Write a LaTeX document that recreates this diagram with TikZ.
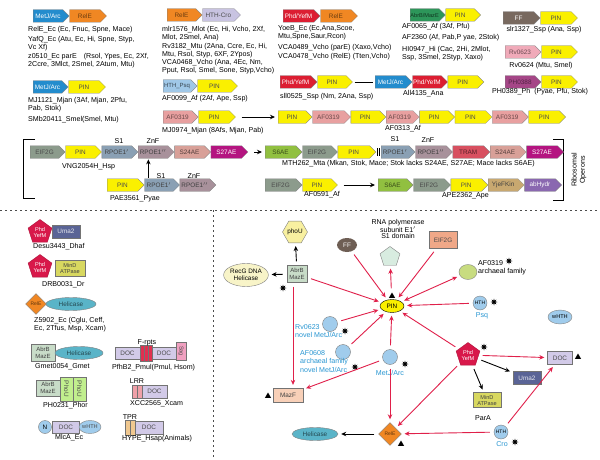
\documentclass[tikz,border=0pt]{standalone}
\usepackage{fontspec}
\setmainfont{Liberation Sans}
\usetikzlibrary{shapes.symbols,shapes.geometric,arrows.meta,positioning}
\newcommand\lblfont{\fontsize{7.1}{8.3}\selectfont}
\newcommand\genefont{\fontsize{6.4}{6.8}\selectfont}
\newcommand\smfont{\fontsize{5.6}{6}\selectfont}
\definecolor{metj}{RGB}{35,140,205}
\definecolor{rele}{RGB}{240,135,35}
\definecolor{pin}{RGB}{250,240,0}
\definecolor{htcro}{RGB}{200,195,225}
\definecolor{phd}{RGB}{220,30,50}
\definecolor{abrbg}{RGB}{45,150,90}
\definecolor{ffc}{RGB}{120,105,95}
\definecolor{rvp}{RGB}{240,170,185}
\definecolor{phm}{RGB}{165,70,135}
\definecolor{hthp}{RGB}{160,200,232}
\definecolor{afp}{RGB}{232,160,160}
\definecolor{eif}{RGB}{140,155,140}
\definecolor{rpo1}{RGB}{138,160,180}
\definecolor{rpo2}{RGB}{168,145,155}
\definecolor{s24}{RGB}{216,160,152}
\definecolor{s27}{RGB}{180,20,128}
\definecolor{s6}{RGB}{145,192,64}
\definecolor{redu}{RGB}{216,80,96}
\definecolor{yjef}{RGB}{200,168,112}
\definecolor{abh}{RGB}{138,104,176}
\definecolor{crim}{RGB}{216,24,74}
\definecolor{uma}{RGB}{90,100,150}
\definecolor{mind}{RGB}{216,216,96}
\definecolor{doc}{RGB}{210,202,232}
\definecolor{heli}{RGB}{90,180,200}
\definecolor{lblue}{RGB}{160,204,236}
\definecolor{phouc}{RGB}{248,240,160}
\definecolor{recgc}{RGB}{248,244,200}
\definecolor{abrbl}{RGB}{200,220,200}
\definecolor{mazfc}{RGB}{248,208,184}
\definecolor{ffn}{RGB}{110,94,84}
\definecolor{pentg}{RGB}{216,236,224}
\definecolor{eifb}{RGB}{240,168,136}
\definecolor{afgc}{RGB}{200,220,128}
\definecolor{redarr}{RGB}{224,32,74}
\definecolor{blueT}{RGB}{40,150,210}
\definecolor{frpt}{RGB}{224,48,80}
\definecolor{sagc}{RGB}{240,160,192}
\definecolor{lrrc}{RGB}{240,160,168}
\definecolor{tprc}{RGB}{240,200,144}
\tikzset{
 gene/.style={signal, signal to=east, draw=black!50, line width=0.3pt, minimum height=12.5pt, minimum width=36pt, inner sep=0.3pt, font=\genefont, anchor=west},
 metjG/.style={gene, fill=metj, text=white},
 releG/.style={gene, fill=rele, text=rele!45!black},
 pinG/.style={gene, fill=pin, text=black!70},
 htcroG/.style={gene, fill=htcro, text=black!70},
 phdG/.style={gene, fill=phd, text=white},
 abrbG/.style={gene, fill=abrbg, text=abrbg!35!black, font=\smfont},
 ffG/.style={gene, fill=ffc, text=white},
 rvG/.style={gene, fill=rvp, text=rvp!45!black},
 phmG/.style={gene, fill=phm, text=phm!50!black},
 hthG/.style={gene, fill=hthp, text=hthp!35!black, font=\fontsize{6}{6.4}\selectfont},
 afG/.style={gene, fill=afp, text=afp!45!black},
 eifG/.style={gene, fill=eif, text=black!70},
 rpoaG/.style={gene, fill=rpo1, text=black!75},
 rpobG/.style={gene, fill=rpo2, text=black!75},
 s24G/.style={gene, fill=s24, text=s24!40!black},
 s27G/.style={gene, fill=s27, text=white},
 s6G/.style={gene, fill=s6, text=s6!40!black},
 reduG/.style={gene, fill=redu, text=redu!40!black},
 yjefG/.style={gene, fill=yjef, text=black!75},
 abhG/.style={gene, fill=abh, text=white},
 lbl/.style={font=\lblfont, anchor=north west, inner sep=0pt, align=left},
 clbl/.style={font=\lblfont, inner sep=0pt, align=center},
 box/.style={rectangle, draw=black!55, line width=0.3pt, inner sep=0.5pt, font=\genefont, align=center},
 ra/.style={draw=redarr, line width=0.9pt, -{Stealth[length=5pt,width=4.5pt]}, shorten <=4pt, shorten >=3pt},
 ba/.style={draw=black, line width=0.9pt, -{Stealth[length=5pt,width=4.5pt]}, shorten <=4pt, shorten >=3pt},
 opa/.style={draw=black, line width=0.9pt, -{Stealth[length=5pt,width=4.5pt]}, shorten <=6pt, shorten >=3pt},
 starn/.style={star, star points=8, star point ratio=2.4, fill=black, minimum size=7pt, inner sep=0pt},
 tri/.style={regular polygon, regular polygon sides=3, fill=black, minimum size=7pt, inner sep=0pt},
 pent/.style={regular polygon, regular polygon sides=5, fill=crim, draw=crim!80!black, text=white, minimum size=25pt, inner sep=0pt, font=\smfont, align=center},
 bluet/.style={font=\lblfont, text=blueT, inner sep=0pt, align=left},
 sep/.style={draw=black!70, line width=0.8pt, dash pattern=on 2pt off 3pt}
}
\begin{document}
\begin{tikzpicture}[x=1pt,y=-1pt]
\useasboundingbox (0,0) rectangle (600,460);
\fill[white] (0,0) rectangle (600,460);
% ---------- row 1 ----------
\node[metjG] (a1) at (33,16) {MetJ/Arc};
\node[releG, minimum width=37pt, right=0pt of a1] (a2) {RelE};
\node[lbl] (la1) at (28,26) {RelE\_Ec (Ec, Fnuc, Spne, Mace)};
\node[lbl] (la2) at (28,36) {YafQ\_Ec (Atu, Ec, Hi, Spne, Styp,\\Vc Xf)};
\node[lbl] (la3) at (28,53) {z0510\_Ec parE\quad(Rsol, Ypes, Ec, 2Xf,\\2Ccre, 3Mlct, 2Smel, 2Atum, Mtu)};

\node[releG, minimum width=35pt] (b1) at (167,15) {RelE};
\node[htcroG, minimum width=38pt, right=0pt of b1] (b2) {HTH-Cro};
\node[lbl] (lb1) at (162,26) {mlr1576\_Mlot (Ec, Hi, Vcho, 2Xf,\\Mlot, 2Smel, Ana)};
\node[lbl] (lb2) at (162,43) {Rv3182\_Mtu (2Ana, Ccre, Ec, Hi,\\Mtu, Rsol, Styp, 6XF, 2Ypos)};
\node[lbl] (lb3) at (162,59) {VCA0468\_Vcho (Ana, 4Ec, Nm,\\Pput, Rsol, Smel, Sone, Styp,Vcho)};

\node[phdG, minimum width=37pt] (c1) at (283,16) {Phd/YefM};
\node[releG, minimum width=37pt, right=0pt of c1] (c2) {RelE};
\node[lbl] (lc1) at (278,25) {YoeB\_Ec (Ec,Ana,Scoe,\\Mtu,Spne,Saur,Rcon)};
\node[lbl] (lc2) at (278,44) {VCA0489\_Vcho (parE) (Xaxo,Vcho)};
\node[lbl] (lc3) at (278,53) {VCA0478\_Vcho (RelE) (Tten,Vcho)};

\node[abrbG, minimum width=35pt] (d1) at (410,15) {AbrB/MazE};
\node[pinG, minimum width=35pt, right=0pt of d1] (d2) {PIN};
\node[lbl] (ld1) at (402,23) {AF0065\_Af (3Af, Pfu)};
\node[lbl] (ld2) at (402,34) {AF2360 (Af, Pab,P yae, 2Stok)};
\node[lbl] (ld3) at (402,46) {HI0947\_Hi (Cac, 2Hi, 2Mlot,\\Ssp, 3Smel, 2Styp, Xaxo)};

\node[ffG, minimum width=37pt] (e1) at (503,18) {FF};
\node[pinG, minimum width=37pt, right=0pt of e1] (e2) {PIN};
\node[clbl] (le1) at (544,30) {slr1327\_Ssp (Ana, Ssp)};

\node[rvG] (f1) at (505,52) {Rv0623};
\node[pinG, right=0pt of f1] (f2) {PIN};
\node[clbl] (lf1) at (541,66) {Rv0624 (Mtu, Smel)};

\node[phmG] (h1) at (505,82) {PH0388};
\node[pinG, right=0pt of h1] (h2) {PIN};
\node[clbl] (lh1) at (540,92) {PH0389\_Ph\ \ (Pyae, Pfu, Stok)};

% ---------- row 2 ----------
\node[metjG, minimum width=35pt] (i1) at (33,87) {MetJ/Arc};
\node[pinG, minimum width=37pt, right=0pt of i1] (i2) {PIN};
\node[lbl] (li1) at (28,97) {MJ1121\_Mjan (3Af, Mjan, 2Pfu,\\Pab, Stok)};
\node[lbl] (li2) at (28,116) {SMb20411\_Smel(Smel, Mtu)};

\node[hthG, minimum width=34pt] (j1) at (163,86) {HTH\_Psq};
\node[pinG, minimum width=40pt, right=0pt of j1] (j2) {PIN};
\node[lbl] (lj1) at (162,95) {AF0099\_Af (2Af, Ape, Ssp)};

\node[phdG, minimum width=37pt] (k1) at (280,82) {Phd/YefM};
\node[pinG, minimum width=35pt, right=0pt of k1] (k2) {PIN};
\node[metjG, minimum width=37pt] (k3) at (375,82) {MetJ/Arc};
\node[phdG, minimum width=35pt, right=0pt of k3] (k4) {Phd/YefM};
\node[pinG, minimum width=36pt, right=0pt of k4] (k5) {PIN};
\draw[line width=0.9pt, shorten <=2pt, shorten >=2pt] (k2.east) -- (k3.west);
\node[lbl] (lk1) at (280,93) {sll0525\_Ssp (Nm, 2Ana, Ssp)};
\node[lbl] (lk2) at (403,90) {All4135\_Ana};

% ---------- row 3 ----------
\node[afG, minimum width=35pt] (m1) at (163,117) {AF0319};
\node[pinG, minimum width=37pt, right=0pt of m1] (m2) {PIN};
\node[lbl] (lm1) at (162,127) {MJ0974\_Mjan (8Afs, Mjan, Pab)};
\node[pinG, minimum width=34pt] (n1) at (278,117) {PIN};
\draw[opa] (m2.east) -- (n1.west);
\node[afG, minimum width=38pt, right=0pt of n1] (n2) {AF0319};
\node[pinG, minimum width=35pt, right=0pt of n2] (n3) {PIN};
\node[afG, minimum width=33pt, right=0pt of n3] (n4) {AF0319};
\node[pinG, minimum width=35pt, right=0pt of n4] (n5) {PIN};
\node[pinG, minimum width=37pt, right=0pt of n5] (n6) {PIN};
\node[afG, minimum width=36pt, right=0pt of n6] (n7) {AF0319};
\node[pinG, minimum width=37pt, right=0pt of n7] (n8) {PIN};
\node[lbl] (ln1) at (385,125) {AF0313\_Af};

% ---------- ribosomal operons ----------
\draw[line width=0.7pt] (35,139) -- (23,139) -- (23,198) -- (35,198);
\draw[line width=0.7pt] (553,139) -- (563,139) -- (563,200) -- (553,200);
\node[clbl, rotate=90] (ribo) at (579,170) {Ribosomal\\Operons};

\node[eifG, minimum width=35pt] (p1) at (30,152) {EIF2G};
\node[pinG, right=0pt of p1] (p2) {PIN};
\node[rpoaG, right=0pt of p2] (p3) {RPOE1$'$};
\node[rpobG, right=0pt of p3] (p4) {RPOE1$''$};
\node[s24G, right=0pt of p4] (p5) {S24AE};
\node[s27G, minimum width=37pt, right=0pt of p5] (p6) {S27AE};
\node[clbl] (lp3) at (119,141) {S1};
\node[clbl] (lp4) at (153,141) {ZnF};
\node[lbl] (lp1) at (62,163) {VNG2054H\_Hsp};

\node[s6G, minimum width=37pt] (q1) at (265,152) {S6AE};
\draw[opa] (p6.east) -- (q1.west);
\node[eifG, minimum width=35pt, right=0pt of q1] (q2) {EIF2G};
\node[pinG, minimum width=38pt, right=0pt of q2] (q3) {PIN};
\node[rpoaG, minimum width=34pt] (q4) at (381,152) {RPOE1$'$};
\draw[line width=0.6pt] (377,148) -- (377,156) (379.5,148) -- (379.5,156);
\node[rpobG, minimum width=37pt, right=0pt of q4] (q5) {RPOE1$''$};
\node[reduG, minimum width=37pt, right=0pt of q5] (q6) {TRAM};
\node[s24G, right=0pt of q6] (q7) {S24AE};
\node[s27G, minimum width=37pt, right=0pt of q7] (q8) {S27AE};
\node[clbl] (lq4) at (395,139) {S1};
\node[clbl] (lq5) at (428,140) {ZnF};
\node[lbl] (lq1) at (282,160) {MTH262\_Mta (Mkan, Stok, Mace; Stok lacks S24AE, S27AE; Mace lacks S6AE)};

\node[pinG, minimum width=37pt] (r1) at (107,185) {PIN};
\node[rpoaG, minimum width=35pt, right=0pt of r1] (r2) {RPOE1$'$};
\node[rpobG, right=0pt of r2] (r3) {RPOE1$''$};
\node[clbl] (lr2) at (161,176) {S1};
\node[clbl] (lr3) at (194,176) {ZnF};
\node[lbl] (lr1) at (110,195) {PAE3561\_Pyae};
\coordinate (up0) at ([xshift=4pt]r2.north west);
\draw[ba, shorten <=1pt, shorten >=1pt] (up0) -- (up0 |- p4.south);

\node[eifG, minimum width=37pt] (s1) at (265,185) {EIF2G};
\node[pinG, minimum width=35pt, right=0pt of s1] (s2) {PIN};
\node[lbl] (ls1) at (304,191) {AF0591\_Af};
\node[s6G, minimum width=35pt] (t1) at (378,185) {S6AE};
\draw[opa] (s2.east) -- (t1.west);
\node[eifG, minimum width=37pt, right=0pt of t1] (t2) {EIF2G};
\node[pinG, minimum width=37pt, right=0pt of t2] (t3) {PIN};
\node[yjefG, right=0pt of t3] (t4) {YjeFKin};
\node[abhG, minimum width=37pt, right=0pt of t4] (t5) {abHydr};
\node[lbl] (lt1) at (442,192) {APE2362\_Ape};

% ---------- separators ----------
\draw[sep] (0,210) -- (600,210);
\draw[sep] (213,210) -- (213,460);

% ---------- bottom-left domain architectures ----------
\node[pent] (u1) at (40,232) {Phd\\YefM};
\node[box, fill=uma, text=white!85!uma, minimum width=28pt, minimum height=13pt] (u2) at (66,231.5) {Uma2};
\node[lbl] (lu1) at (33,243) {Desu3443\_Dhaf};

\node[pent] (v1) at (40,267) {Phd\\YefM};
\node[box, fill=mind, text=black!75, minimum width=30pt, minimum height=16pt, font=\smfont] (v2) at (70,268) {MinD\\ATPase};
\node[lbl] (lv1) at (42,281) {DRB0031\_Dr};

\node[diamond, draw=black!50, fill=rele, minimum size=21pt, inner sep=0pt, font=\fontsize{5}{5}\selectfont, text=rele!40!black] (w1) at (36,304) {RelE};
\node[ellipse, draw=black!50, fill=heli, text=heli!40!black, minimum width=50pt, minimum height=13pt, inner sep=0pt, font=\genefont] (w2) at (71,304) {Helicase};
\node[lbl] (lw1) at (34,317) {Z5902\_Ec (Cglu, Ceff,\\Ec, 2Tfus, Msp, Xcam)};

\node[box, fill=abrbl, text=black!75, minimum width=24pt, minimum height=17pt, font=\fontsize{6}{6.4}\selectfont] (x1) at (43,353) {AbrB\\MazE};
\node[ellipse, draw=black!50, fill=heli, text=heli!40!black, minimum width=48pt, minimum height=13pt, inner sep=0pt, font=\genefont] (x2) at (79,353) {Helicase};
\node[lbl] (lx1) at (35,363) {Gmet0054\_Gmet};

\node[box, fill=abrbl, text=black!75, minimum width=24pt, minimum height=16pt, font=\fontsize{6}{6.4}\selectfont] (y1) at (48,388) {AbrB\\MazE};
\node[box, fill=mind!70!green!60!white, text=black!70, minimum width=24pt, minimum height=13pt, rotate=-90] (y2) at (66.5,389) {PhoU};
\node[box, fill=mind!70!green!60!white, text=black!70, minimum width=24pt, minimum height=13pt, rotate=-90] (y3) at (79.5,389) {PhoU};
\node[lbl] (ly1) at (43,402) {PH0231\_Phor};

\node[circle, draw=black!50, fill=lblue, minimum size=13pt, inner sep=0pt, font=\genefont] (z1) at (45,427) {N};
\node[box, fill=doc, text=black!70, minimum width=27pt, minimum height=12pt] (z2) at (66,427) {DOC};
\node[ellipse, draw=black!50, fill=lblue, text=black!70, minimum width=22pt, minimum height=13pt, inner sep=0pt, font=\smfont] (z3) at (90,427) {wHTH};
\node[lbl] (lz1) at (55,434) {MlcA\_Ec};

\node[box, fill=doc, text=black!70, minimum width=25pt, minimum height=12pt] (pf1) at (127.5,353.5) {DOC};
\node[box, fill=frpt, minimum width=4pt, minimum height=16pt, inner sep=0pt] (fr1) at (142,353.5) {};
\node[box, fill=frpt, minimum width=4pt, minimum height=16pt, inner sep=0pt] (fr2) at (146,353.5) {};
\node[box, fill=frpt, minimum width=4pt, minimum height=16pt, inner sep=0pt] (fr3) at (150,353.5) {};
\node[box, fill=doc, text=black!70, minimum width=24pt, minimum height=12pt] (pf2) at (164,353.5) {DOC};
\node[box, fill=sagc, text=black!70, minimum width=18pt, minimum height=10pt, rotate=-90, font=\smfont] (pf3) at (181,351) {Sag};
\node[clbl] (lfr) at (147,343) {F-rpts};
\node[lbl] (lpf) at (112,364) {PfhB2\_Pmul(Pmul, Hsom)};

\node[box, fill=lrrc, minimum width=5pt, minimum height=13pt, inner sep=0pt] (lr1b) at (134.5,391.5) {};
\node[box, fill=lrrc, minimum width=5pt, minimum height=13pt, inner sep=0pt] (lr2b) at (139.5,391.5) {};
\node[box, fill=doc, text=black!70, minimum width=25pt, minimum height=13pt] (lr3b) at (154.5,391.5) {DOC};
\node[clbl] (llr) at (137,381) {LRR};
\node[lbl] (lxc) at (130,400) {XCC2565\_Xcam};

\node[box, fill=tprc, minimum width=5pt, minimum height=15pt, inner sep=0pt] (tp1) at (127.5,427.5) {};
\node[box, fill=tprc, minimum width=5pt, minimum height=15pt, inner sep=0pt] (tp2) at (132.5,427.5) {};
\node[box, fill=doc, text=black!70, minimum width=28pt, minimum height=13pt] (tp3) at (149,427.5) {DOC};
\node[clbl] (ltp) at (130,417) {TPR};
\node[lbl] (lhy) at (122,435) {HYPE\_Hsap(Animals)};

% ---------- network ----------
\node[regular polygon, regular polygon sides=6, draw=black!50, fill=phouc, minimum size=24pt, inner sep=0pt, font=\genefont] (phou) at (295,232) {phoU};
\node[box, fill=abrbl, text=black!75, minimum width=20pt, minimum height=17pt, font=\fontsize{6}{6.4}\selectfont] (abrbN) at (297,274) {AbrB\\MazE};
\node[starn] (st1) at (283,288) {};
\node[ellipse, draw=black!50, fill=recgc, minimum width=40pt, minimum height=23pt, inner sep=0pt, font=\genefont, align=center] (recg) at (246,275) {RecG DNA\\Helicase};
\node[ellipse, fill=ffn, text=white, minimum width=20pt, minimum height=14pt, inner sep=0pt, font=\genefont] (ffN) at (347,245) {FF};
\node[font=\fontsize{7}{6.6}\selectfont, align=center, inner sep=0pt] (rnaT) at (398,229) {RNA polymerase\\subunit E1$'$\\S1 domain};
\node[regular polygon, regular polygon sides=5, draw=black!50, fill=pentg, minimum size=21pt, inner sep=0pt] (pentN) at (390,257) {};
\node[box, fill=eifb, text=black!70, minimum width=28pt, minimum height=17pt] (eifN) at (443,240) {EIF2G};
\node[ellipse, draw=black!50, fill=afgc, minimum width=18pt, minimum height=15pt, inner sep=0pt] (afN) at (468,272) {};
\node[lbl] (afT) at (478,260) {AF0319\\archaeal family};
\node[starn] (st2) at (509,261) {};
\node[ellipse, draw=black, fill=pin, minimum width=24pt, minimum height=13pt, inner sep=0pt, font=\genefont] (pinN) at (392,306) {PIN};
\node[tri] (tr1) at (392,296) {};
\node[circle, draw=black!50, fill=lblue, minimum size=14pt, inner sep=0pt, font=\fontsize{5}{5}\selectfont] (hthN) at (480,303) {HTH};
\node[starn] (st3) at (494,302) {};
\node[bluet] (psq) at (482,316) {Psq};
\node[ellipse, draw=black!50, fill=lblue, minimum width=24pt, minimum height=14pt, inner sep=0pt, font=\smfont] (whth) at (560,317) {wHTH};
\node[circle, draw=black!50, fill=lblue, minimum size=15pt, inner sep=0pt] (rvN) at (330,324) {};
\node[starn] (st4) at (345,331) {};
\node[bluet, anchor=north west] (rvT) at (295,324) {Rv0623\\novel MetJ/Arc};
\node[circle, draw=black!50, fill=lblue, minimum size=15pt, inner sep=0pt] (afN2) at (343,352) {};
\node[bluet, anchor=north west, font=\fontsize{7.1}{8.5}\selectfont] (afT2) at (300,350) {AF0608\\archaeal family\\novel MetJ/Arc};
\node[starn] (st5) at (355,367) {};
\node[circle, draw=black!50, fill=lblue, minimum size=15pt, inner sep=0pt] (metN) at (390,357) {};
\node[starn] (st6) at (405,364) {};
\node[bluet] (metT) at (390,373) {MetJ/Arc};
\node[box, fill=mazfc, text=black!75, minimum width=30pt, minimum height=14pt] (mazN) at (288,395) {MazF};
\node[tri] (tr2) at (268,396) {};
\node[ellipse, draw=black!50, fill=heli, text=heli!40!black, minimum width=46pt, minimum height=13pt, inner sep=0pt, font=\genefont] (heliN) at (315,434) {Helicase};
\node[diamond, draw=black!50, fill=rele, minimum size=23pt, inner sep=0pt, font=\fontsize{5}{5}\selectfont, text=rele!40!black] (releN) at (390,434) {RelE};
\node[tri] (tr3) at (401,444) {};
\node[pent] (phdN) at (468,355) {Phd\\YefM};
\node[starn] (st7) at (484,347) {};
\node[box, fill=doc, text=black!70, minimum width=25pt, minimum height=13pt] (docN) at (560,358) {DOC};
\node[tri] (tr4) at (578,357) {};
\node[box, fill=uma, text=white!85!uma, minimum width=28pt, minimum height=13pt] (umaN) at (527,378) {Uma2};
\node[box, fill=mind, text=black!75, minimum width=28pt, minimum height=15pt, font=\smfont] (mindN) at (487,400) {MinD\\ATPase};
\node[clbl] (parA) at (483,418) {ParA};
\node[circle, draw=black!50, fill=lblue, minimum size=14pt, inner sep=0pt, font=\fontsize{5}{5}\selectfont] (croN) at (501,432) {HTH};
\node[bluet] (croT) at (502,444) {Cro};
\node[starn] (st8) at (515,442) {};

% arrows
\draw[ra] (abrbN) -- (pinN);
\draw[ra] (ffN) -- (pinN);
\draw[ra, shorten <=11pt] (pinN) -- (pentN);
\draw[ra] (eifN) -- (pinN);
\draw[draw=redarr, line width=0.9pt, {Stealth[length=5pt,width=4.5pt]}-{Stealth[length=5pt,width=4.5pt]}, shorten <=3pt, shorten >=3pt] (afN) -- (pinN);
\draw[ra] (hthN) -- (pinN);
\draw[ra] (rvN) -- (pinN);
\draw[ra] (afN2) -- (pinN);
\draw[ra] (metN) -- (pinN);
\draw[ra] (phdN) -- (pinN);
\draw[ra] ([xshift=-4pt]abrbN.south) -- ([xshift=-4pt]abrbN.south |- mazN.north);
\draw[ra] (metN) -- (mazN);
\draw[ra] (metN) -- (releN);
\draw[ra] (phdN) -- (releN);
\draw[ra] (croN) -- (releN);
\draw[ra] (phdN) -- (docN);
\draw[ra] (croN) -- (docN);
\draw[ba] (phdN) -- (umaN);
\draw[ba] (phdN) -- (mindN);
\draw[ba] (releN) -- (heliN);
\draw[ba] (abrbN) -- (phou);
\draw[ba] (abrbN) -- (recg);
\end{tikzpicture}
\end{document}
